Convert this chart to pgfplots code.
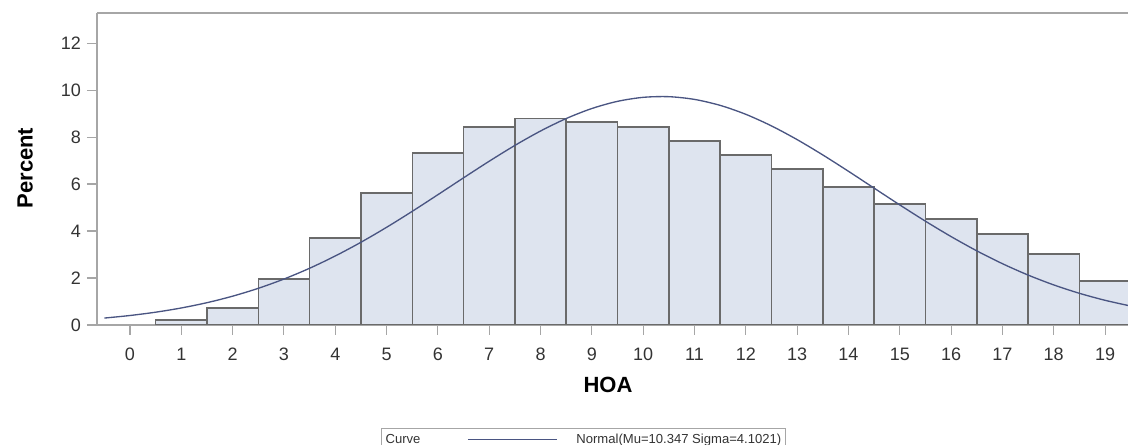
\documentclass[border=0pt]{standalone}
\usepackage{fontspec}
\setmainfont{Liberation Sans}
\usepackage{pgfplots}
\pgfplotsset{compat=1.18}
\definecolor{barfill}{HTML}{DEE4EF}
\definecolor{baredge}{HTML}{6A6A6A}
\definecolor{curve}{HTML}{4A5582}
\definecolor{frame}{HTML}{A6A6A6}
\pgfplotsset{long legend line/.style={legend image code/.code={\draw[##1] (0pt,0pt) -- (67pt,0pt);}}}

\begin{document}
\begin{tikzpicture}
\begin{axis}[
    scale only axis,
    width=773.25pt, height=234pt,
    xmin=-0.643, xmax=19.447,
    ymin=0, ymax=13.28,
    axis x line=bottom, axis y line=left,
    axis line style={-, draw=frame, line width=1pt},
    xtick={0,1,...,19}, ytick={0,2,...,12},
    tick align=outside, major tick length=7.5pt,
    tick style={draw=frame, line width=0.8pt},
    /pgf/number format/assume math mode=true,
    tick label style={font=\fontsize{13.5}{15}\selectfont, text=black!80},
    xticklabel style={yshift=-6.5pt},
    yticklabel style={xshift=-1pt},
    xlabel={HOA}, ylabel={Percent},
    label style={font=\fontsize{16.5}{19}\selectfont\bfseries},
    xlabel style={at={(axis description cs:0.4956,-0.192)}, anchor=center},
    ylabel style={at={(axis description cs:-0.0698,0.503)}, anchor=center},
    legend columns=2,
    legend cell align=left,
    legend style={at={(axis description cs:0.2755,-0.330)}, anchor=north west,
        draw=frame, line width=0.8pt, font=\fontsize{9.8}{12}\selectfont,
        text=black!80, inner xsep=1pt, inner ysep=2pt,
        /tikz/column 1/.style={column sep=0pt},
        /tikz/column 2/.style={column sep=33pt},
        /tikz/column 3/.style={column sep=12pt}},
]
% histogram bars (percent per HOA value)
\addplot[ybar, bar width=1, fill=barfill, draw=baredge, line width=1.1pt, forget plot]
coordinates {
(1,0.21) (2,0.73) (3,1.96) (4,3.70) (5,5.62) (6,7.32) (7,8.43) (8,8.80)
(9,8.64) (10,8.43) (11,7.83) (12,7.23) (13,6.64) (14,5.87) (15,5.15)
(16,4.51) (17,3.87) (18,3.02) (19,1.87)
};
\addlegendimage{empty legend}
\addlegendentry{Curve}
% fitted normal curve
\addplot[curve, line width=1pt, smooth, long legend line]
coordinates {
(-0.5,0.295) (0,0.404) (0.5,0.545) (1,0.725) (1.5,0.950) (2,1.227)
(2.5,1.561) (3,1.956) (3.5,2.415) (4,2.938) (4.5,3.521) (5,4.158)
(5.5,4.838) (6,5.547) (6.5,6.265) (7,6.971) (7.5,7.644) (8,8.257)
(8.5,8.788) (9,9.215) (9.5,9.520) (10,9.690) (10.5,9.718) (11,9.602)
(11.5,9.348) (12,8.967) (12.5,8.474) (13,7.890) (13.5,7.238) (14,6.542)
(14.5,5.825) (15,5.111) (15.5,4.418) (16,3.763) (16.5,3.157) (17,2.610)
(17.5,2.126) (18,1.706) (18.5,1.349) (19,1.051) (19.5,0.807)
};
\addlegendentry{Normal(Mu=10.347 Sigma=4.1021)}
\draw[frame, line width=1pt] (rel axis cs:0,1) -- (rel axis cs:1,1);
\end{axis}
\pgfresetboundingbox
\path[use as bounding box] (-72.75pt,-90pt) rectangle (773.25pt,243.75pt);
\end{tikzpicture}
\end{document}
